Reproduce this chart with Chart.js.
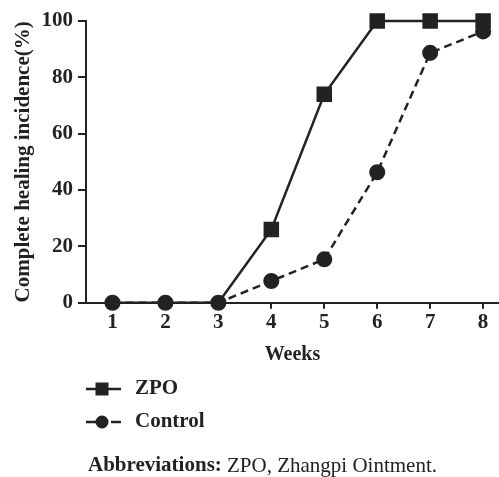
<!DOCTYPE html>
<html lang="en">
<head>
    <meta charset="UTF-8">
    <title>Complete healing incidence</title>
    <script src="https://cdn.jsdelivr.net/npm/chart.js"></script>
    <style>
        html, body { margin: 0; padding: 0; background: #fff; }
        .wrap { width: 499px; height: 477px; position: relative; }
    </style>
</head>
<body>
    <div class="wrap">
        <canvas id="healingChart" width="499" height="477"></canvas>
    </div>

    <script>
        // data
        const weeks = [1, 2, 3, 4, 5, 6, 7, 8];
        const zpoValues = [0, 0, 0, 26, 74, 100, 100, 100];
        const controlValues = [0, 0, 0, 7.7, 15.4, 46.3, 88.7, 96.3];
        const yTicks = [0, 20, 40, 60, 80, 100];

        const ink = "#222";
        const serif = "'Liberation Serif', 'DejaVu Serif', serif";

        // legend + abbreviation note under the plot
        const notePlugin = {
            id: "notes",
            afterDraw(chart) {
                const ctx = chart.ctx;
                ctx.save();
                ctx.strokeStyle = ink;
                ctx.fillStyle = ink;
                ctx.lineWidth = 2.5;

                // ZPO: solid line with square
                let y = 389;
                ctx.beginPath();
                ctx.moveTo(86, y); ctx.lineTo(121, y);
                ctx.stroke();
                ctx.fillRect(102 - 6.5, y - 6.5, 13, 13);

                // Control: dashed line with circle
                y = 422;
                ctx.beginPath();
                ctx.moveTo(86, y); ctx.lineTo(97, y);
                ctx.moveTo(111, y); ctx.lineTo(121, y);
                ctx.stroke();
                ctx.beginPath();
                ctx.arc(102, y, 6.5, 0, Math.PI * 2);
                ctx.fill();

                ctx.textBaseline = "middle";
                ctx.textAlign = "left";
                ctx.font = "bold 21px " + serif;
                ctx.fillText("ZPO", 135, 389);
                ctx.fillText("Control", 135, 422);

                const lead = "Abbreviations:";
                ctx.fillText(lead, 88, 466);
                const w = ctx.measureText(lead).width;
                ctx.font = "21px " + serif;
                ctx.fillText(" ZPO, Zhangpi Ointment.", 88 + w, 466);
                ctx.restore();
            }
        };

        // where both groups sit on the same point, only the circle shows
        const squareRadius = (c) => zpoValues[c.dataIndex] === controlValues[c.dataIndex] ? 0 : 9.2;

        const ctx = document.getElementById("healingChart").getContext("2d");
        new Chart(ctx, {
            type: "line",
            data: {
                datasets: [
                    {
                        label: "Control",
                        data: weeks.map((w, i) => ({ x: w, y: controlValues[i] })),
                        borderColor: ink,
                        backgroundColor: ink,
                        borderWidth: 2.5,
                        borderDash: [8, 5],
                        pointStyle: "circle",
                        pointRadius: 6.8,
                        pointHoverRadius: 6.8,
                        clip: false,
                        order: 0
                    },
                    {
                        label: "ZPO",
                        data: weeks.map((w, i) => ({ x: w, y: zpoValues[i] })),
                        borderColor: ink,
                        backgroundColor: ink,
                        borderWidth: 2.5,
                        pointStyle: "rect",
                        pointRadius: squareRadius,
                        pointHoverRadius: squareRadius,
                        clip: false,
                        order: 1
                    }
                ]
            },
            options: {
                responsive: false,
                animation: false,
                layout: { autoPadding: false, padding: { top: 21, right: 0, bottom: 110, left: 0 } },
                plugins: { legend: { display: false }, tooltip: { enabled: false } },
                scales: {
                    x: {
                        type: "linear",
                        min: 0.5,
                        max: 8.3,
                        afterBuildTicks: (scale) => { scale.ticks = weeks.map(v => ({ value: v })); },
                        afterFit: (scale) => { scale.height = 64.3; },
                        border: { color: ink, width: 2 },
                        grid: { drawOnChartArea: false, drawTicks: true, tickLength: 6, color: ink, lineWidth: 2 },
                        ticks: { color: ink, padding: 1, font: { family: serif, size: 21, weight: "bold" } },
                        title: {
                            display: true, text: "Weeks", color: ink,
                            padding: { top: 1, bottom: 0 },
                            font: { family: serif, size: 20, weight: "bold" }
                        }
                    },
                    y: {
                        min: 0,
                        max: 100,
                        afterBuildTicks: (scale) => { scale.ticks = yTicks.map(v => ({ value: v })); },
                        afterFit: (scale) => { scale.width = 86; },
                        border: { color: ink, width: 2 },
                        grid: { drawOnChartArea: false, drawTicks: true, tickLength: 8, color: ink, lineWidth: 2 },
                        ticks: { color: ink, padding: 5, font: { family: serif, size: 21, weight: "bold" } },
                        title: {
                            display: true, text: "Complete healing incidence(%)", color: ink,
                            padding: { top: 11, bottom: 0 },
                            font: { family: serif, size: 21, weight: "bold" }
                        }
                    }
                }
            },
            plugins: [notePlugin]
        });
    </script>
</body>
</html>
